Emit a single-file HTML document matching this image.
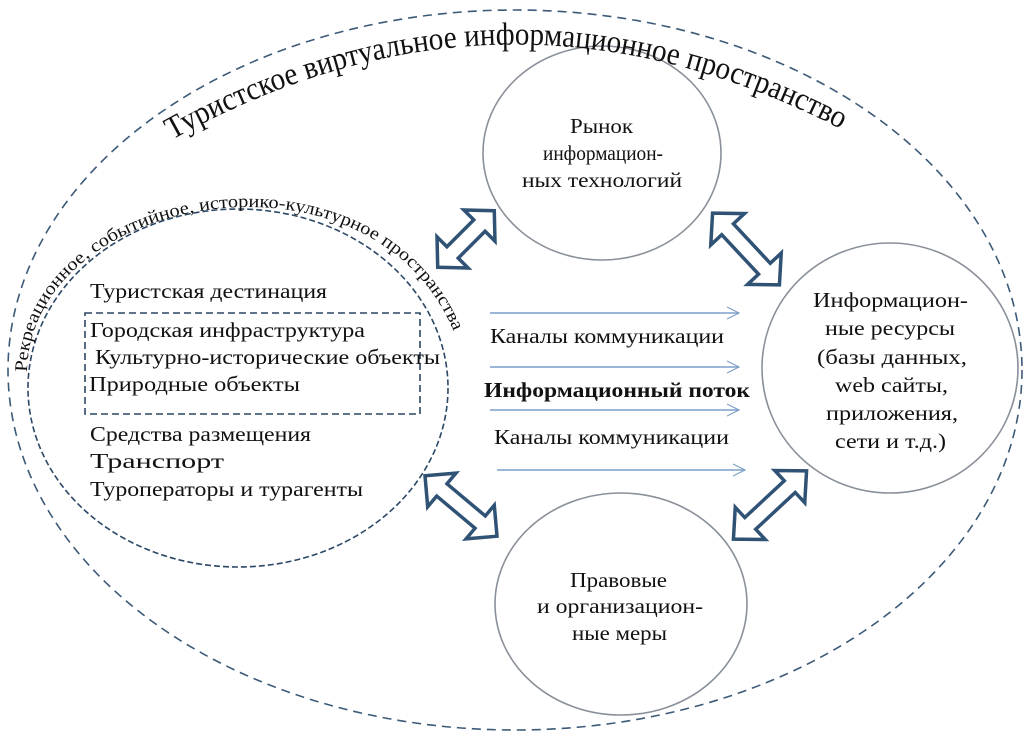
<!DOCTYPE html>
<html><head><meta charset="utf-8"><style>
html,body{margin:0;padding:0;background:#fff;}
svg{display:block;}
text{font-family:"Liberation Serif",serif;fill:#111;}
</style></head><body>
<svg width="1032" height="737" viewBox="0 0 1032 737" xmlns="http://www.w3.org/2000/svg">
<defs>
<path id="outerP" d="M172,140 Q515,-52 865,142"/>
<path id="innerP" d="M27,372 C30,190 380,130 457,340"/>
<marker id="ah" markerWidth="14" markerHeight="14" refX="12" refY="7" orient="auto" markerUnits="userSpaceOnUse">
<path d="M0,1 L12,7 L0,13" fill="none" stroke="#7da0c8" stroke-width="1.2"/>
</marker>
</defs>
<ellipse cx="515" cy="370" rx="507" ry="360" fill="none" stroke="#3c5a78" stroke-width="1.6" stroke-dasharray="9,6"/>
<ellipse cx="238" cy="388" rx="210" ry="179" fill="none" stroke="#2c4766" stroke-width="1.6" stroke-dasharray="6,3"/>
<ellipse cx="602" cy="153" rx="119" ry="107" fill="none" stroke="#8a9099" stroke-width="1.6"/>
<ellipse cx="890" cy="368" rx="128" ry="125" fill="none" stroke="#8a9099" stroke-width="1.6"/>
<ellipse cx="621" cy="604" rx="126" ry="111" fill="none" stroke="#8a9099" stroke-width="1.6"/>
<rect x="85" y="313" width="335" height="101" fill="none" stroke="#2c4766" stroke-width="1.6" stroke-dasharray="7,4"/>
<text font-size="32"><textPath href="#outerP" textLength="700" lengthAdjust="spacingAndGlyphs">Туристское виртуальное информационное пространство</textPath></text>
<text font-size="18"><textPath href="#innerP" textLength="560" lengthAdjust="spacingAndGlyphs">Рекреационное, событийное, историко-культурное пространства</textPath></text>
<g stroke="#7da0c8" stroke-width="1.5" marker-end="url(#ah)">
<line x1="490" y1="313" x2="739" y2="313"/>
<line x1="490" y1="367" x2="739" y2="367"/>
<line x1="490" y1="410" x2="739" y2="410"/>
<line x1="497" y1="470" x2="745" y2="470"/>
</g>
<g fill="#fff" stroke="#2f5275" stroke-width="3.5" stroke-linejoin="miter">
<path transform="translate(466,239) rotate(-45)" d="M-40,0 L-19,-22 L-19,-8 L19,-8 L19,-22 L40,0 L19,22 L19,8 L-19,8 L-19,22 Z"/>
<path transform="translate(746,249) rotate(47)" d="M-49,0 L-27,-23 L-27,-8 L27,-8 L27,-23 L49,0 L27,23 L27,8 L-27,8 L-27,23 Z"/>
<path transform="translate(461,506) rotate(40)" d="M-47,0 L-25,-22 L-25,-8 L25,-8 L25,-22 L47,0 L25,22 L25,8 L-25,8 L-25,22 Z"/>
<path transform="translate(770,505) rotate(-43)" d="M-50,0 L-27,-22 L-27,-8 L27,-8 L27,-22 L50,0 L27,22 L27,8 L-27,8 L-27,22 Z"/>
</g>
<g font-size="21">
<text x="490" y="343" textLength="234" lengthAdjust="spacingAndGlyphs">Каналы коммуникации</text>
<text x="484" y="397" font-weight="bold" textLength="266" lengthAdjust="spacingAndGlyphs">Информационный поток</text>
<text x="494" y="444" textLength="235" lengthAdjust="spacingAndGlyphs">Каналы коммуникации</text>

<text x="570" y="133" textLength="63" lengthAdjust="spacingAndGlyphs">Рынок</text>
<text x="543" y="160" textLength="120" lengthAdjust="spacingAndGlyphs">информацион-</text>
<text x="522" y="187" textLength="160" lengthAdjust="spacingAndGlyphs">ных технологий</text>

<text x="570" y="587" textLength="97" lengthAdjust="spacingAndGlyphs">Правовые</text>
<text x="537" y="613" textLength="166" lengthAdjust="spacingAndGlyphs">и организацион-</text>
<text x="572" y="640" textLength="95" lengthAdjust="spacingAndGlyphs">ные меры</text>

<text x="813" y="307" textLength="155" lengthAdjust="spacingAndGlyphs">Информацион-</text>
<text x="825" y="335" textLength="130" lengthAdjust="spacingAndGlyphs">ные ресурсы</text>
<text x="817" y="364" textLength="150" lengthAdjust="spacingAndGlyphs">(базы данных,</text>
<text x="835" y="392" textLength="113" lengthAdjust="spacingAndGlyphs">web сайты,</text>
<text x="826" y="420" textLength="132" lengthAdjust="spacingAndGlyphs">приложения,</text>
<text x="835" y="448" textLength="111" lengthAdjust="spacingAndGlyphs">сети и т.д.)</text>

<text x="90" y="298" textLength="237" lengthAdjust="spacingAndGlyphs">Туристская дестинация</text>
<text x="90" y="337" textLength="275" lengthAdjust="spacingAndGlyphs">Городская инфраструктура</text>
<text x="95" y="364" textLength="345" lengthAdjust="spacingAndGlyphs">Культурно-исторические объекты</text>
<text x="89" y="391" textLength="211" lengthAdjust="spacingAndGlyphs">Природные объекты</text>
<text x="90" y="441" textLength="221" lengthAdjust="spacingAndGlyphs">Средства размещения</text>
<text x="90" y="468" textLength="134" lengthAdjust="spacingAndGlyphs">Транспорт</text>
<text x="90" y="496" textLength="273" lengthAdjust="spacingAndGlyphs">Туроператоры и турагенты</text>
</g>
</svg>
</body></html>
